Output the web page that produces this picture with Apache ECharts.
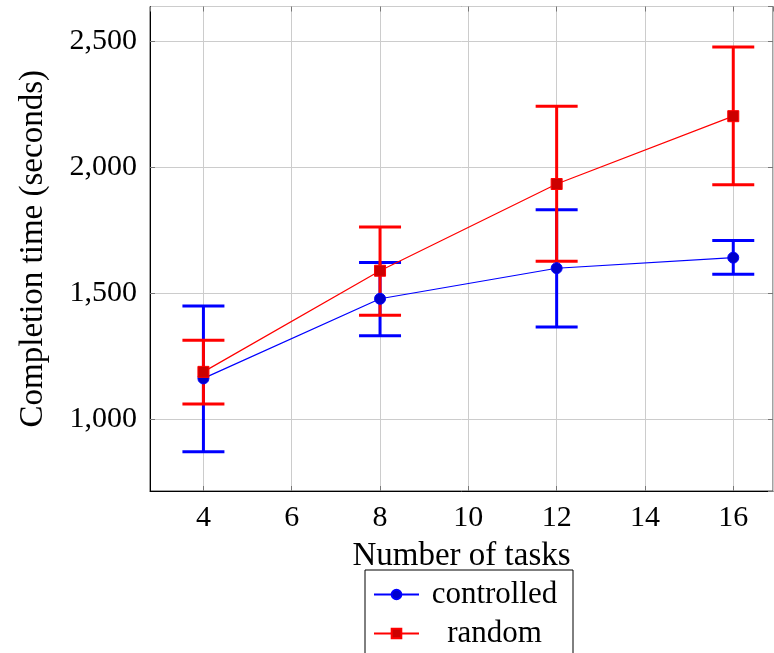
<!DOCTYPE html>
<html>
<head>
<meta charset="utf-8">
<script src="https://cdn.jsdelivr.net/npm/echarts@6/dist/echarts.min.js"></script>
<style>html,body{margin:0;padding:0;background:#fff}#c{width:774px;height:653px}</style>
</head>
<body>
<div id="c"></div>
<script>
const tasks = [4, 8, 12, 16];
const controlledMean = [1161, 1477, 1598, 1640];
const controlledLow  = [870, 1330, 1365, 1574];
const controlledHigh = [1448, 1621, 1830, 1708];
const randomMean = [1187, 1588, 1932, 2201];
const randomLow  = [1060, 1412, 1626, 1929];
const randomHigh = [1312, 1762, 2240, 2475];

const FONT = 'Liberation Serif';
const blue = '#0000ff', red = '#ff0000';

function errData(low, high) {
  return tasks.map((x, i) => [x, low[i], high[i]]);
}
function errRender(color) {
  return function (params, api) {
    const x = api.value(0);
    const lo = api.coord([x, api.value(1)]);
    const hi = api.coord([x, api.value(2)]);
    const w = 21;
    const st = { stroke: color, lineWidth: 3 };
    return {
      type: 'group',
      children: [
        { type: 'line', shape: { x1: lo[0], y1: lo[1], x2: hi[0], y2: hi[1] }, style: st },
        { type: 'line', shape: { x1: lo[0] - w, y1: lo[1], x2: lo[0] + w, y2: lo[1] }, style: st },
        { type: 'line', shape: { x1: hi[0] - w, y1: hi[1], x2: hi[0] + w, y2: hi[1] }, style: st }
      ]
    };
  };
}

const chart = echarts.init(document.getElementById('c'), null, { renderer: 'canvas' });
const tickStyle = { show: true, inside: true, length: 5, lineStyle: { color: '#777', width: 1 } };
chart.setOption({
  animation: false,
  backgroundColor: '#fff',
  textStyle: { fontFamily: FONT },
  grid: { left: 150, top: 6.5, right: 1, bottom: 162, show: true, borderColor: '#444', borderWidth: 1, containLabel: false },
  xAxis: [{
    type: 'value', min: 2.79, max: 16.9, splitNumber: 7, minInterval: 2, maxInterval: 2,
    name: 'Number of tasks', nameLocation: 'middle', nameGap: 49,
    nameTextStyle: { fontFamily: FONT, fontSize: 33, color: '#000' },
    axisLine: { show: true, lineStyle: { color: '#000', width: 1 } },
    axisTick: tickStyle,
    axisLabel: { fontFamily: FONT, fontSize: 30, color: '#000', margin: 12, showMinLabel: false, showMaxLabel: false },
    splitLine: { show: true, lineStyle: { color: '#cccccc', width: 1 } }
  }, {
    type: 'value', position: 'top', min: 2.79, max: 16.9, splitNumber: 7, minInterval: 2, maxInterval: 2,
    axisLine: { show: false }, axisTick: tickStyle, axisLabel: { show: false }, splitLine: { show: false }
  }],
  yAxis: [{
    type: 'value', min: 714.5, max: 2636, splitNumber: 4, minInterval: 500, maxInterval: 500,
    name: 'Completion time (seconds)', nameLocation: 'middle', nameGap: 100,
    nameTextStyle: { fontFamily: FONT, fontSize: 33, color: '#000' },
    axisLine: { show: true, lineStyle: { color: '#000', width: 1 } },
    axisTick: tickStyle,
    axisLabel: {
      fontFamily: FONT, fontSize: 30, color: '#000', margin: 13, showMinLabel: false, showMaxLabel: false,
      formatter: v => v.toLocaleString('en-US')
    },
    splitLine: { show: true, lineStyle: { color: '#cccccc', width: 1 } }
  }, {
    type: 'value', position: 'right', min: 714.5, max: 2636, splitNumber: 4, minInterval: 500, maxInterval: 500,
    axisLine: { show: false }, axisTick: tickStyle, axisLabel: { show: false }, splitLine: { show: false }
  }],
  legend: {
    orient: 'vertical', left: 365, top: 570, height: 200,
    backgroundColor: '#fff', borderColor: '#000', borderWidth: 1,
    padding: [9, 8, 10, 8], itemGap: 8, itemWidth: 45, itemHeight: 12,
    data: ['controlled', 'random'],
    formatter: n => '{c|' + n + '}',
    textStyle: {
      fontFamily: FONT, fontSize: 31, color: '#000',
      rich: { c: { fontFamily: FONT, fontSize: 31, width: 141, align: 'center', lineHeight: 31 } }
    }
  },
  series: [
    { type: 'custom', name: 'controlledErr', z: 2, renderItem: errRender(blue), data: errData(controlledLow, controlledHigh), encode: { x: 0, y: [1, 2] } },
    { type: 'custom', name: 'randomErr', z: 2, renderItem: errRender(red), data: errData(randomLow, randomHigh), encode: { x: 0, y: [1, 2] } },
    {
      type: 'line', name: 'controlled', z: 3, data: tasks.map((x, i) => [x, controlledMean[i]]),
      symbol: 'circle', symbolSize: 11,
      lineStyle: { color: blue, width: 1.2 },
      itemStyle: { color: '#0000cc', borderColor: blue, borderWidth: 1 }
    },
    {
      type: 'line', name: 'random', z: 4, data: tasks.map((x, i) => [x, randomMean[i]]),
      symbol: 'rect', symbolSize: 11,
      lineStyle: { color: red, width: 1.2 },
      itemStyle: { color: '#cc0000', borderColor: red, borderWidth: 1 }
    }
  ]
});
</script>
</body>
</html>
